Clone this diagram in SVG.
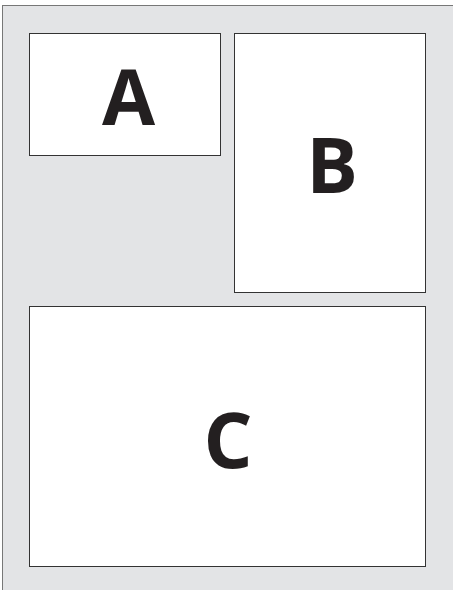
<svg xmlns="http://www.w3.org/2000/svg" width="453" height="590" viewBox="0 0 453 590">
<style>
.box{fill:#ffffff;stroke:#333333;stroke-width:1}
.lbl{font-family:"Open Sans","Liberation Sans",sans-serif;font-weight:700;font-size:77px;fill:#231f20;text-anchor:middle}
</style>
<rect x="0" y="0" width="453" height="590" fill="#ffffff"/>
<rect x="2.5" y="5.5" width="460" height="600" fill="#e3e4e6" stroke="#777" stroke-width="1"/>
<g id="A"><rect class="box" x="29.5" y="33.5" width="191" height="122"/><text class="lbl" x="128.5" y="125">A</text></g>
<g id="B"><rect class="box" x="234.5" y="33.5" width="191" height="259"/><text class="lbl" x="332" y="193">B</text></g>
<g id="C"><rect class="box" x="29.5" y="306.5" width="396" height="260"/><text class="lbl" x="228" y="468">C</text></g>
<g id="connectors"></g>
</svg>
